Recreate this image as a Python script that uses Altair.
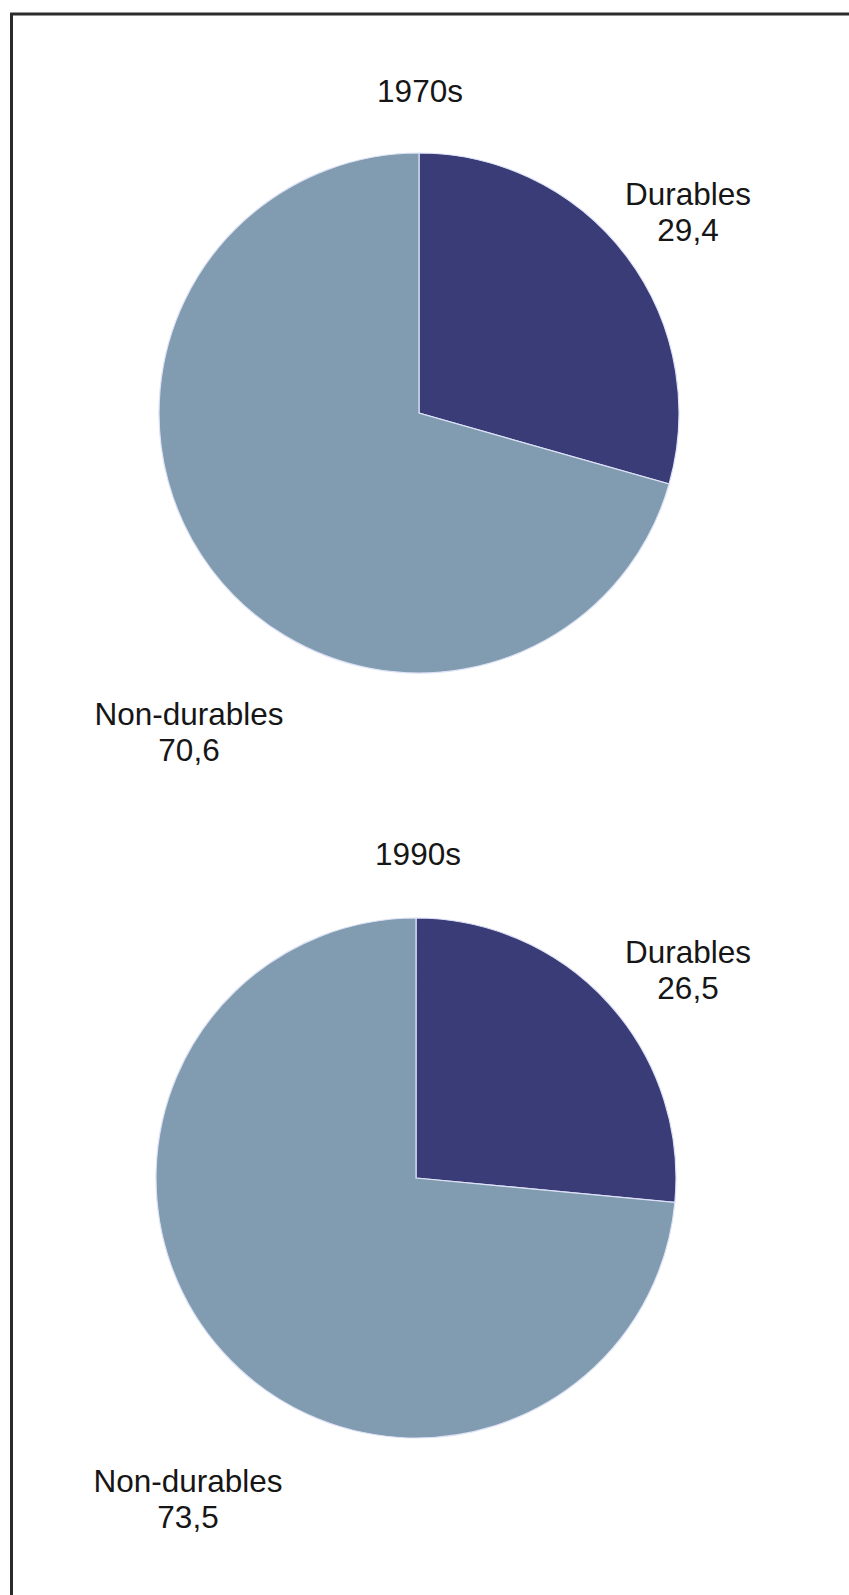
import altair as alt
import pandas as pd

# Shares of household consumption (%) by decade
categories = ["Durables", "Non-durables"]
decades = ["1970s", "1990s"]
share_1970s = [29.4, 70.6]
share_1990s = [26.5, 73.5]

shares = {"1970s": share_1970s, "1990s": share_1990s}

rows = []
for d in decades:
    for i, (c, v) in enumerate(zip(categories, shares[d])):
        rows.append({
            "decade": d,
            "category": c,
            "share": v,
            "rank": i,
            "label": f"{c}\n{v:.1f}".replace(".", ","),
        })
df = pd.DataFrame(rows)

DARK = "#3a3c78"
LIGHT = "#819cb0"
TEXT = "#161616"
FONT = "Liberation Sans"
FONT_SIZE = 31.5
RADIUS = 260

# Layout of each pie panel (pixel positions)
panels = {
    "1970s": dict(cx=419, cy=413, title_x=420, title_y=101.5,
                  labels={"Durables": (688, 205), "Non-durables": (189, 725)}),
    "1990s": dict(cx=416, cy=1178, title_x=418, title_y=865,
                  labels={"Durables": (688, 963), "Non-durables": (188, 1492)}),
}

base = alt.Chart(df)
color_scale = alt.Scale(domain=categories, range=[DARK, LIGHT])

layers = []
for d in decades:
    p = panels[d]
    pie = (
        base.transform_filter(alt.datum.decade == d)
        .mark_arc(radius=RADIUS, stroke="#dde2f6", strokeWidth=1.2)
        .encode(
            x=alt.value(p["cx"]),
            y=alt.value(p["cy"]),
            theta=alt.Theta("share:Q", stack=True),
            color=alt.Color("category:N", scale=color_scale, legend=None),
            order=alt.Order("rank:Q"),
        )
    )
    layers.append(pie)

    title = (
        base.transform_filter((alt.datum.decade == d) & (alt.datum.rank == 0))
        .mark_text(font=FONT, fontSize=FONT_SIZE, color=TEXT,
                   align="center", baseline="alphabetic")
        .encode(x=alt.value(p["title_x"]), y=alt.value(p["title_y"]),
                text="decade:N")
    )
    layers.append(title)

    for c in categories:
        lx, ly = p["labels"][c]
        lab = (
            base.transform_filter((alt.datum.decade == d) & (alt.datum.category == c))
            .mark_text(font=FONT, fontSize=FONT_SIZE, color=TEXT,
                       align="center", baseline="alphabetic",
                       lineBreak="\n", lineHeight=35.5)
            .encode(x=alt.value(lx), y=alt.value(ly), text="label:N")
        )
        layers.append(lab)

# Frame lines along the top and left edges
frame_src = alt.Chart(pd.DataFrame({"k": [0]}))
top_rule = frame_src.mark_rule(color="#2b2b2b", strokeWidth=3).encode(
    x=alt.value(10), x2=alt.value(849), y=alt.value(14))
left_rule = frame_src.mark_rule(color="#2b2b2b", strokeWidth=3).encode(
    x=alt.value(11.5), y=alt.value(13), y2=alt.value(1595))
layers += [top_rule, left_rule]

chart = (
    alt.layer(*layers)
    .properties(width=849, height=1595, padding=0, autosize="none",
                background="white")
    .configure_view(stroke="transparent")
)

chart.save("out.html", embed_options={"renderer": "svg", "actions": False})
